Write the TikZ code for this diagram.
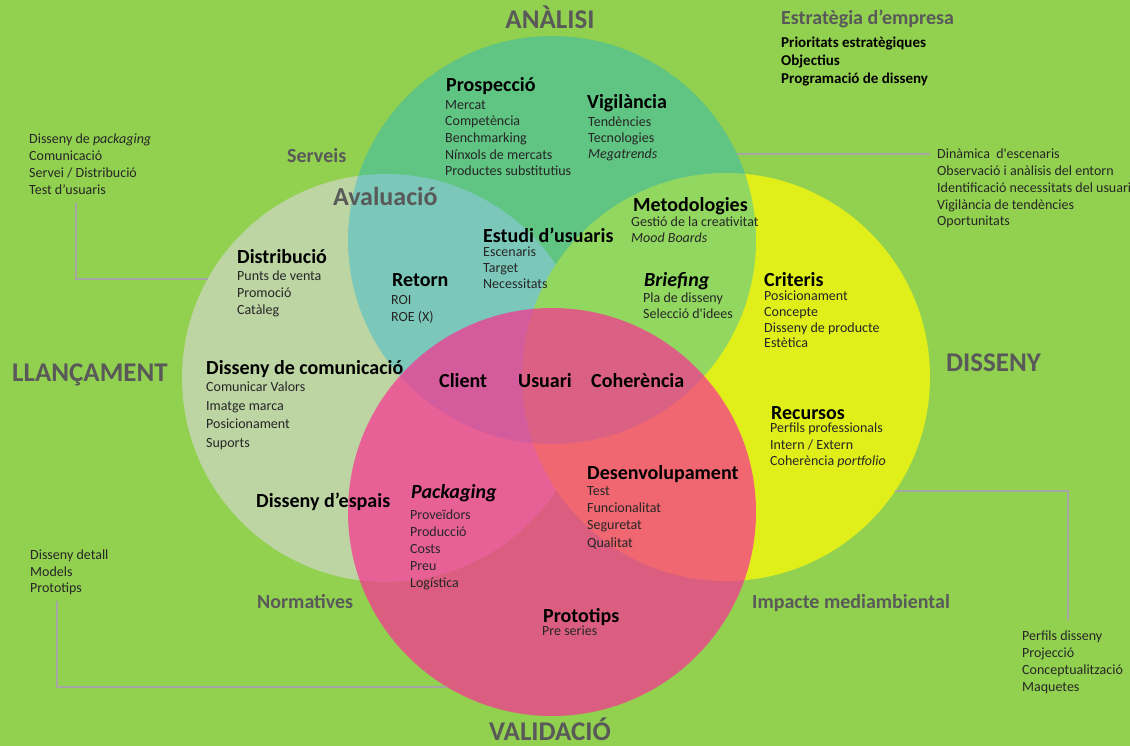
\documentclass[tikz,border=0pt]{standalone}
\usepackage{fontspec}
\setmainfont{Carlito}

\definecolor{fons}{RGB}{146,208,80}
\definecolor{grisos}{RGB}{89,89,89}
\definecolor{linia}{RGB}{166,166,166}
\definecolor{pallid}{RGB}{188,213,163}
\definecolor{groc}{RGB}{224,239,26}
\definecolor{cian}{RGB}{3,174,228}
\definecolor{rosa}{RGB}{247,53,146}

\begin{document}
\begin{tikzpicture}[x=1pt,y=-1pt,
	cercle/.style={circle,minimum size=408pt,inner sep=0pt,outer sep=0pt},
	fase/.style={font=\fontsize{27}{32}\selectfont\bfseries,text=grisos,anchor=base west,inner sep=0pt},
	etiqueta/.style={font=\fontsize{20}{24}\selectfont\bfseries,text=grisos,anchor=base west,inner sep=0pt},
	tema/.style={font=\fontsize{20}{24}\selectfont\bfseries,anchor=base west,inner sep=0pt},
	llista/.style={font=\fontsize{14}{#1}\selectfont,text=black!85,align=left,anchor=north west,inner sep=0pt},
	llista/.default=17,
	link/.style={draw=linia,line width=1.5pt}]

\useasboundingbox (0,0) rectangle (1130,746);
\fill[fons] (0,0) rectangle (1130,746);

% els quatre cercles
\node[cercle,fill=pallid] (llancament) at (386,378) {};
\node[cercle,fill=groc] (disseny) at (726,377) {};
\node[cercle,fill=cian,fill opacity=0.35] (analisi) at (552,240) {};
\node[cercle,fill=rosa,fill opacity=0.73] (validacio) at (552,512) {};

% fases
\node[fase,anchor=base] (tAnalisi) at (550,29) {ANÀLISI};
\node[fase] (tLlanc) at (12,381) {LLANÇAMENT};
\node[fase] (tDiss) at (946,371) {DISSENY};
\node[fase,anchor=base] (tValid) at (550,740) {VALIDACIÓ};

\node[etiqueta] (serveis) at (287,163) {Serveis};
\node[etiqueta,font=\fontsize{26}{30}\selectfont\bfseries] (avaluacio) at (333,206) {Avaluació};
\node[etiqueta] (normatives) at (257,608) {Normatives};
\node[etiqueta] (impacte) at (752,608) {Impacte mediambiental};
\node[etiqueta] (estrategia) at (781,25) {Estratègia d’empresa};
\node[llista=18,font=\fontsize{15}{18}\selectfont\bfseries,text=black] (prioritats) at (781,37)
  {Prioritats estratègiques\\Objectius\\Programació de disseny};

% llistes de fora
\node[llista=16.7] (packL) at (29,134)
  {Disseny de \textit{packaging}\\Comunicació\\Servei / Distribució\\Test d’usuaris};
\node[llista=16.7] (dinL) at (937,149)
  {Dinàmica\ \ d\textquotesingle{}escenaris\\Observació i anàlisis del entorn\\Identificació necessitats del usuari\\Vigilància de tendències\\Oportunitats};
\node[llista=16.5] (protL) at (30,550) {Disseny detall\\Models\\Prototips};
\node[llista=16.7] (perfL) at (1022,631) {Perfils disseny\\Projecció\\Conceptualització\\Maquetes};

% ANALISI
\node[tema] (prosp) at (446,92) {Prospecció};
\node[llista=16.7] (prospL) at (445,100)
  {Mercat\\Competència\\Benchmarking\\Nínxols de mercats\\Productes substitutius};
\node[tema] (vigil) at (587,109) {Vigilància};
\node[llista=16] (vigilL) at (588,117) {Tendències\\Tecnologies\\\textit{Megatrends}};
\node[tema] (metod) at (633,212) {Metodologies};
\node[llista=15.5] (metodL) at (631,217) {Gestió de la creativitat\\\textit{Mood Boards}};
\node[tema] (estudi) at (483,243) {Estudi d’usuaris};
\node[llista=16] (estudiL) at (483,247) {Escenaris\\Target\\Necessitats};
\node[tema] (retorn) at (392,287) {Retorn};
\node[llista=17] (retornL) at (391,295) {ROI\\ROE (X)};

% DISSENY
\node[tema] (brief) at (644,287) {\textit{Briefing}};
\node[llista=16] (briefL) at (643,293) {Pla de disseny\\Selecció d\textquotesingle{}idees};
\node[tema] (criteris) at (764,287) {Criteris};
\node[llista=15.7] (criterisL) at (764,291)
  {Posicionament\\Concepte\\Disseny de producte\\Estètica};
\node[tema] (recursos) at (771,419) {Recursos};
\node[llista=16.5] (recursosL) at (770,423)
  {Perfils professionals\\Intern / Extern\\Coherència \textit{portfolio}};
\node[tema] (desenv) at (587,479) {Desenvolupament};
\node[llista=17.3] (desenvL) at (587,486) {Test\\Funcionalitat\\Seguretat\\Qualitat};

% LLANCAMENT
\node[tema] (distrib) at (237,263) {Distribució};
\node[llista=17] (distribL) at (237,271) {Punts de venta\\Promoció\\Catàleg};
\node[tema] (comunic) at (206,374) {Disseny de comunicació};
\node[llista=18.5] (comunicL) at (206,382)
  {Comunicar Valors\\Imatge marca\\Posicionament\\Suports};
\node[tema] (espais) at (256,507) {Disseny d’espais};

% centre
\node[tema] (client) at (439,387) {Client};
\node[tema] (usuari) at (518,387) {Usuari};
\node[tema] (coher) at (591,387) {Coherència};

% VALIDACIO
\node[tema] (packg) at (411,498) {\textit{Packaging}};
\node[llista=16.8] (packgL) at (410,510)
  {Proveïdors\\Producció\\Costs\\Preu\\Logística};
\node[tema] (protot) at (543,622) {Prototips};
\node[llista] (prototL) at (542,626) {Pre series};

% linies
\draw[link] ([xshift=47pt,yshift=-9pt]packL.south west) |- (llancament.151.4);
\draw[link] (analisi.25.2) -- ([xshift=-7pt]analisi.25.2 -| dinL.west);
\draw[link] (disseny.-34.7) -| ([xshift=46pt,yshift=11pt]perfL.north west);
\draw[link] ([xshift=27pt,yshift=-6pt]protL.south west) |- (validacio.239.4);
\end{tikzpicture}
\end{document}
